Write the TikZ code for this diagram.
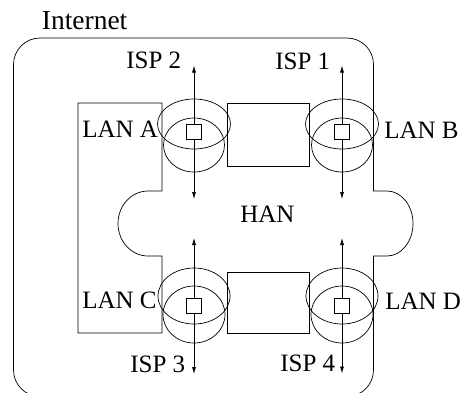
\documentclass[tikz,border=0pt]{standalone}
\usepackage{fontspec}
\setmainfont{Liberation Serif}
\usetikzlibrary{arrows.meta,shapes.geometric}
\begin{document}
\begin{tikzpicture}[x=1pt,y=-1pt, line width=0.7pt,
  lbl/.style={anchor=base west, inner sep=0pt, font=\fontsize{25}{30}\selectfont},
  ringup/.style={ellipse, draw, inner sep=0pt, outer sep=0pt, minimum width=73pt, minimum height=50pt},
  ringdn/.style={ellipse, draw, inner sep=0pt, outer sep=0pt, minimum width=61pt, minimum height=54pt},
  ringupb/.style={ellipse, draw, inner sep=0pt, outer sep=0pt, minimum width=72pt, minimum height=56pt},
  ringdnb/.style={ellipse, draw, inner sep=0pt, outer sep=0pt, minimum width=62pt, minimum height=57pt},
  port/.style={rectangle, draw, fill=white, inner sep=0pt, outer sep=0pt, minimum size=15pt},
  link/.style={{Latex[length=7pt,width=4pt]}-{Latex[length=7pt,width=4pt]}}]
\useasboundingbox (0,0) rectangle (460,392);
\clip (0,0) rectangle (460,392);
% Internet outline with HAN right bump
\draw (40,38) -- (347,38) arc[start angle=-90, end angle=0, radius=26.5]
  -- (373.5,191) -- (387,191)
  arc[start angle=-90, end angle=90, x radius=26, y radius=32.5]
  -- (373.5,256) -- (373.5,370) arc[start angle=0, end angle=90, radius=26.5]
  -- (40,396.5) arc[start angle=90, end angle=180, radius=26.5]
  -- (13.5,64.5) arc[start angle=180, end angle=270, radius=26.5] -- cycle;
% left LAN column with HAN left bump
\draw (78,103) -- (162,103) -- (162,191) -- (148,191)
  arc[start angle=-90, end angle=-270, x radius=30, y radius=32.5]
  -- (162,256) -- (162,333) -- (78,333) -- cycle;
% middle rectangles
\draw (227,103) rectangle (309,166);
\draw (227,272) rectangle (309,333);
% rings
\node[ringup] (uA) at (194,124) {};
\node[ringdn] (lA) at (194,145) {};
\node[ringup] (uB) at (342,124) {};
\node[ringdn] (lB) at (342,145) {};
\node[ringupb] (uC) at (194,296) {};
\node[ringdnb] (lC) at (194,314.5) {};
\node[ringupb] (uD) at (342,296) {};
\node[ringdnb] (lD) at (342,314.5) {};
% arrow ends
\coordinate (ispA) at (194,65.5);
\coordinate (hanA) at (194,199);
\coordinate (ispB) at (342,65.5);
\coordinate (hanB) at (342,199);
\coordinate (hanC) at (194,238);
\coordinate (ispC) at (194,374);
\coordinate (hanD) at (342,238);
\coordinate (ispD) at (342,373.5);
\draw[link] (ispA) -- (hanA);
\draw[link] (ispB) -- (hanB);
\draw[link] (hanC) -- (ispC);
\draw[link] (hanD) -- (ispD);
% ports
\node[port] (pA) at (194,131.5) {};
\node[port] (pB) at (342,131.5) {};
\node[port] (pC) at (194,305.5) {};
\node[port] (pD) at (342,305.5) {};
% labels
\node[lbl, font=\fontsize{27.5}{32}\selectfont] (inet) at (41.5,29.5) {Internet};
\node[lbl] (isp2) at (126,68.5) {ISP 2};
\node[lbl] (isp1) at (275,69) {ISP 1};
\node[lbl] (lanA) at (82,137) {LAN A};
\node[lbl] (lanB) at (384,138) {LAN B};
\node[lbl] (han) at (240,222) {HAN};
\node[lbl] (lanC) at (82,308) {LAN C};
\node[lbl] (lanD) at (385,309) {LAN D};
\node[lbl] (isp3) at (130,372) {ISP 3};
\node[lbl] (isp4) at (280,371.5) {ISP 4};
\end{tikzpicture}
\end{document}
